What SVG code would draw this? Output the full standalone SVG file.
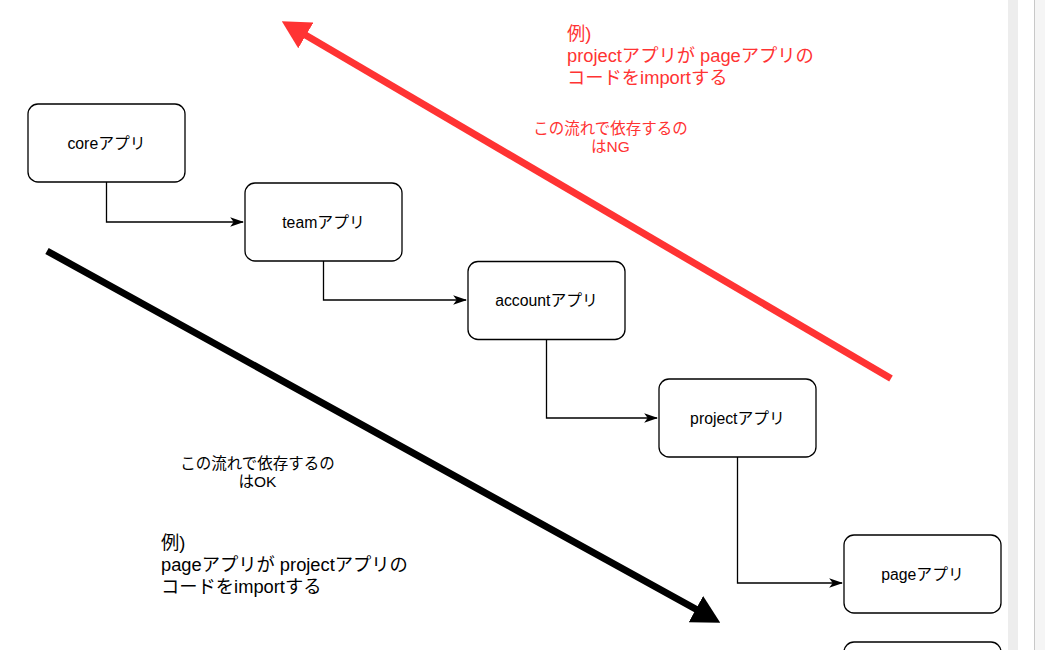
<svg xmlns="http://www.w3.org/2000/svg" width="1045" height="650" viewBox="0 0 1045 650">
<style>
text{font-family:"Liberation Sans","Noto Sans CJK JP",sans-serif;}
.box{fill:#fff;stroke:#000;stroke-width:1.3;}
.lbl{font-size:15.8px;fill:#000;text-anchor:middle;}
.edge{fill:none;stroke:#000;stroke-width:1.3;}
.big{font-size:18.3px;}
.small{font-size:15.5px;text-anchor:middle;}
.red{fill:#ff3333;}
.blk{fill:#000;}
</style>
<defs>
<marker id="ah" markerUnits="userSpaceOnUse" markerWidth="14" markerHeight="10" viewBox="0 0 12 8" refX="11" refY="4" orient="auto">
<path d="M0,0 L12,4 L0,8 L3,4 Z" fill="#000"/>
</marker>
<marker id="bigBlack" markerUnits="userSpaceOnUse" markerWidth="28" markerHeight="30" viewBox="0 0 26 28" refX="6" refY="14" orient="auto">
<path d="M0,0 L26,14 L0,28 Z" fill="#000"/>
</marker>
<marker id="bigRed" markerUnits="userSpaceOnUse" markerWidth="28" markerHeight="30" viewBox="0 0 26 28" refX="6" refY="14" orient="auto">
<path d="M0,0 L26,14 L0,28 Z" fill="#ff3333"/>
</marker>
</defs>
<rect width="1045" height="650" fill="#fff"/>
<rect x="1008" y="0" width="10" height="650" fill="#ededed"/>
<rect x="1035" y="0" width="10" height="650" fill="#f5f5f5"/>
<line x1="1034.5" y1="0" x2="1034.5" y2="650" stroke="#c8c8c8" stroke-width="1"/>

<g id="connectors">
<path class="edge" d="M106.5,182 V222 H243" marker-end="url(#ah)"/>
<path class="edge" d="M323.5,261 V300 H466" marker-end="url(#ah)"/>
<path class="edge" d="M546.5,340 V418 H657" marker-end="url(#ah)"/>
<path class="edge" d="M737.5,457 V583 H842" marker-end="url(#ah)"/>
<line x1="47" y1="251" x2="701.5" y2="612.3" stroke="#000" stroke-width="7" marker-end="url(#bigBlack)"/>
<line x1="891" y1="378.5" x2="300.3" y2="32.1" stroke="#ff3333" stroke-width="7" marker-end="url(#bigRed)"/>
</g>

<g id="core">
<rect class="box" x="28" y="104" width="157" height="78" rx="10"/>
<text class="lbl" x="106.5" y="149">coreアプリ</text>
</g>
<g id="team">
<rect class="box" x="245" y="183" width="157" height="78" rx="10"/>
<text class="lbl" x="323.5" y="228">teamアプリ</text>
</g>
<g id="account">
<rect class="box" x="468" y="261.5" width="157" height="78" rx="10"/>
<text class="lbl" x="546.5" y="306">accountアプリ</text>
</g>
<g id="project">
<rect class="box" x="659" y="379" width="157" height="78" rx="10"/>
<text class="lbl" x="737.5" y="424">projectアプリ</text>
</g>
<g id="page">
<rect class="box" x="844" y="535" width="157" height="78" rx="10"/>
<text class="lbl" x="922.5" y="580">pageアプリ</text>
</g>
<g id="next">
<rect class="box" x="844" y="642" width="157" height="78" rx="10"/>
</g>

<g id="ng-note">
<text class="big red" x="567" y="40">例)</text>
<text class="big red" x="567" y="62">projectアプリが pageアプリの</text>
<text class="big red" x="567" y="84">コードをimportする</text>
</g>
<g id="ng-label">
<text class="small red" x="610.5" y="134">この流れで依存するの</text>
<text class="small red" x="610.5" y="152">はNG</text>
</g>
<g id="ok-label">
<text class="small blk" x="257.5" y="469">この流れで依存するの</text>
<text class="small blk" x="257.5" y="487">はOK</text>
</g>
<g id="ok-note">
<text class="big blk" x="161" y="549">例)</text>
<text class="big blk" x="161" y="571">pageアプリが projectアプリの</text>
<text class="big blk" x="161" y="593">コードをimportする</text>
</g>
</svg>
